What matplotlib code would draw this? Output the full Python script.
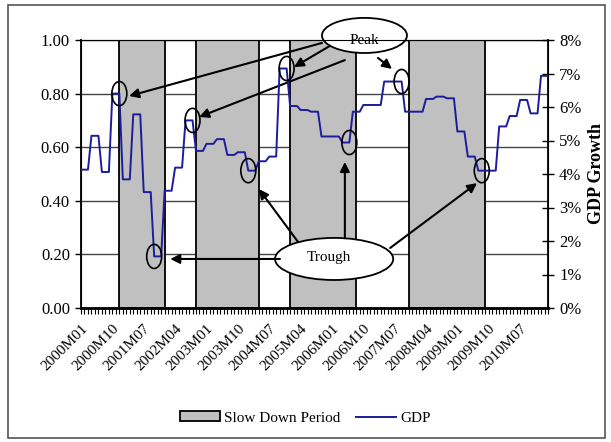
import numpy as np
import matplotlib.pyplot as plt
import matplotlib.transforms as mtransforms
from matplotlib.patches import Ellipse, Patch, Rectangle
from matplotlib.lines import Line2D

plt.rcParams['font.family'] = ['Liberation Serif', 'DejaVu Serif']

# quarterly GDP growth (%), 2000Q1 onwards
gdp_q = [4.13, 5.14, 4.06, 6.40, 3.84, 5.78, 3.46, 1.54, 3.50, 4.19,
         5.60, 4.69, 4.90, 5.04, 4.57, 4.65, 4.10, 4.38, 4.52, 7.15,
         6.03, 5.91, 5.86, 5.12, 5.12, 4.94, 5.86, 6.06, 6.06, 6.76,
         6.76, 5.86, 5.86, 6.24, 6.31, 6.26, 5.27, 4.52, 4.10, 4.10,
         5.42, 5.73, 6.21, 5.81, 6.93]
# slow down periods (first month, last month)
slow_start = ['2000M12', '2002M10', '2005M01', '2007M11']
slow_end = ['2002M01', '2004M04', '2006M08', '2009M09']
# months circled as peaks / troughs
peak_months = ['2000M12', '2002M09', '2004M12', '2007M09']
trough_months = ['2001M10', '2004M01', '2006M06', '2009M08']
tick_labels = ['2000M01', '2000M10', '2001M07', '2002M04', '2003M01', '2003M10',
               '2004M07', '2005M04', '2006M01', '2006M10', '2007M07', '2008M04',
               '2009M01', '2009M10', '2010M07']


def month_idx(s):
    return (int(s[:4]) - 2000) * 12 + int(s[5:]) - 1


gdp_m = np.repeat(gdp_q, 3)
n = len(gdp_m)
xm = np.arange(n)

fig = plt.figure(figsize=(6.11, 4.42), dpi=100)
fig.patches.append(Rectangle((8 / 611, 4 / 442), 597 / 611, 433 / 442, transform=fig.transFigure,
                             fill=False, edgecolor='#555555', lw=1.2))
ax = fig.add_axes([81 / 611, 1 - 308 / 442, 467 / 611, 268 / 442])
ax.set_xlim(0, n - 1)
ax.set_ylim(0, 1)
ax.set_axisbelow(True)
ax.yaxis.grid(True, color='#444444', lw=1)
for s, e in zip(slow_start, slow_end):
    ax.axvspan(month_idx(s), month_idx(e), facecolor='#c0c0c0', edgecolor='black', lw=1.3, zorder=1)

ax.set_yticks(np.arange(0, 1.01, 0.2))
ax.set_yticklabels(['%.2f' % v for v in np.arange(0, 1.01, 0.2)], fontsize=12)
ax.set_xticks([month_idx(t) for t in tick_labels])
ax.set_xticklabels(tick_labels, rotation=45, ha='right', rotation_mode='anchor', fontsize=11)
shift = mtransforms.ScaledTranslation(-4 / 72, -1 / 72, fig.dpi_scale_trans)
for lab in ax.get_xticklabels():
    lab.set_transform(lab.get_transform() + shift)
ax.set_xticks(np.arange(n), minor=True)
ax.tick_params(axis='x', which='both', length=4, width=0.8, direction='out', pad=6)
ax.tick_params(axis='y', length=4, width=1, pad=4)
for sp in ['left', 'bottom', 'top']:
    ax.spines[sp].set_color('black')
ax.spines['bottom'].set_linewidth(2)
ax.spines['left'].set_linewidth(1.3)

ax2 = ax.twinx()
ax2.set_ylim(0, 8)
ax2.set_yticks(range(9))
ax2.set_yticklabels(['%d%%' % v for v in range(9)], fontsize=12)
ax2.tick_params(axis='y', direction='inout', length=8, width=1, pad=4)
ax2.spines['right'].set_linewidth(1.3)
ax2.plot(xm, gdp_m, color='#1c1c9c', lw=1.4, zorder=3)
ax2.set_ylabel('GDP Growth', fontsize=13, fontweight='bold', labelpad=5)

# small circles on peaks and troughs
for m in peak_months + trough_months:
    i = month_idx(m)
    ax2.add_patch(Ellipse((i, gdp_m[i]), 4.3, 0.72, fill=False, edgecolor='black', lw=1.2, zorder=4))

# big labelled ellipses
ax.add_patch(Ellipse((0.607, 1.017), 0.182, 0.131, transform=ax.transAxes, facecolor='white',
                     edgecolor='black', lw=1.3, clip_on=False, zorder=5))
ax.text(0.607, 1.0, 'Peak', transform=ax.transAxes, ha='center', va='center', fontsize=11, zorder=6)
ax.add_patch(Ellipse((0.542, 0.183), 0.253, 0.157, transform=ax.transAxes, facecolor='white',
                     edgecolor='black', lw=1.3, zorder=5))
ax.text(0.53, 0.188, 'Trough', transform=ax.transAxes, ha='center', va='center', fontsize=11, zorder=6)

arrows = [((0.516, 0.989), (0.103, 0.791)), ((0.565, 0.925), (0.253, 0.713)),
          ((0.533, 0.978), (0.456, 0.899)), ((0.636, 0.933), (0.666, 0.892)),
          ((0.426, 0.183), (0.191, 0.183)), ((0.465, 0.246), (0.381, 0.444)),
          ((0.565, 0.261), (0.565, 0.545)), ((0.662, 0.224), (0.848, 0.466))]
for tail, head in arrows:
    ax.annotate('', xy=head, xytext=tail, xycoords='axes fraction', textcoords='axes fraction',
                arrowprops=dict(arrowstyle='-|>', color='black', lw=1.5, mutation_scale=14,
                                shrinkA=0, shrinkB=0), annotation_clip=False, zorder=6)

handles = [Patch(facecolor='#c0c0c0', edgecolor='black', lw=1.3), Line2D([], [], color='#1c1c9c', lw=1.4)]
fig.legend(handles, ['Slow Down Period', 'GDP'], loc='center', bbox_to_anchor=(0.5, 1 - 418 / 442),
           ncol=2, frameon=False, fontsize=11, handlelength=2.6, handleheight=0.6, columnspacing=1.0,
           handletextpad=0.3)

fig.savefig('out.png', dpi=100)
